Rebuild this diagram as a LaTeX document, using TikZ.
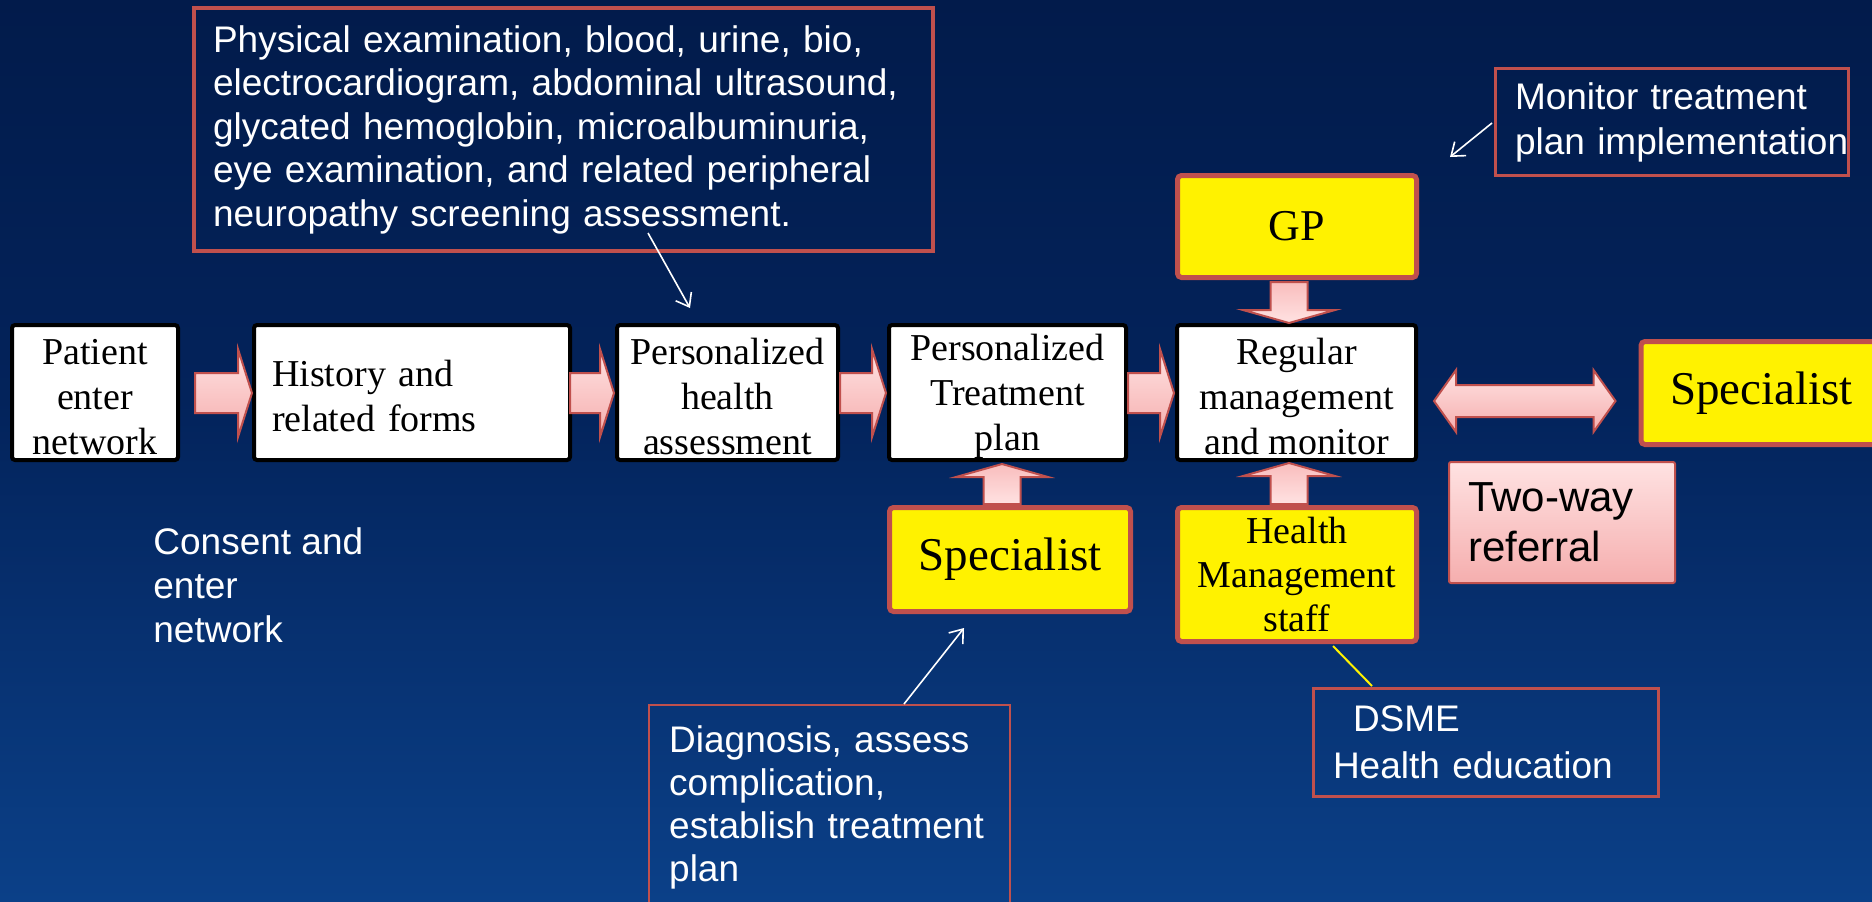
\documentclass[tikz,border=0pt]{standalone}
\usepackage{fontspec}
\setmainfont{Liberation Serif}
\newfontfamily\arialf{Liberation Sans}
\usetikzlibrary{calc,arrows.meta}
\definecolor{bgtop}{HTML}{021B4B}
\definecolor{bgmid}{HTML}{03235B}
\definecolor{bgbot}{HTML}{0B4088}
\definecolor{redb}{HTML}{C0504D}
\definecolor{pinklight}{HTML}{FFE2E2}
\definecolor{pinkdark}{HTML}{F5AEAE}
\definecolor{pinkv}{HTML}{F9BDBD}
\newcommand{\tup}{\rule{0pt}{17pt}}

\tikzset{
  wbox/.style={draw=black, line width=2pt, fill=white, rounded corners=1.5pt,
    minimum height=67.5pt, inner sep=0pt, align=center,
    font=\fontsize{19pt}{22.5pt}\selectfont},
  ybox/.style={draw=redb, line width=2.5pt, fill=yellow, rounded corners=2pt,
    inner sep=0pt, align=center},
  notebox/.style={draw=redb, text=white, align=left, inner ysep=0pt,
    font=\arialf\fontsize{18.5pt}{22pt}\selectfont},
  parrow/.style={draw=redb, line width=1pt, top color=pinklight, bottom color=pinkdark},
  pvarrow/.style={draw=redb, line width=1pt, top color=pinkv, bottom color=pinklight},
  callout/.style={draw=white, line width=0.8pt, -{Straight Barb[length=6pt,width=9pt]}},
}

\newcommand{\rarrow}[2]{%
  \path[parrow] let \p1=(#1), \p2=(#2) in
    (\x1,{\y1+10pt}) -- ({\x2-7pt},{\y1+10pt}) -- ({\x2-7pt},{\y1+22pt}) -- (\x2,\y1)
    -- ({\x2-7pt},{\y1-22pt}) -- ({\x2-7pt},{\y1-10pt}) -- (\x1,{\y1-10pt}) -- cycle;}
\newcommand{\downarrowV}[2]{%
  \path[pvarrow] let \p1=(#1), \p2=(#2) in
    ({\x1-9.25pt},\y1) -- ({\x1-9.25pt},{\y2+6.5pt}) -- ({\x1-23pt},{\y2+6.5pt}) -- (\x1,\y2)
    -- ({\x1+23pt},{\y2+6.5pt}) -- ({\x1+9.25pt},{\y2+6.5pt}) -- ({\x1+9.25pt},\y1) -- cycle;}
\newcommand{\uparrowV}[2]{%
  \path[pvarrow] let \p1=(#1), \p2=(#2) in
    ({\x1-9.25pt},\y1) -- ({\x1-9.25pt},{\y2-6.5pt}) -- ({\x1-23pt},{\y2-6.5pt}) -- (\x1,\y2)
    -- ({\x1+23pt},{\y2-6.5pt}) -- ({\x1+9.25pt},{\y2-6.5pt}) -- ({\x1+9.25pt},\y1) -- cycle;}
\newcommand{\dblarrowH}[2]{%
  \path[parrow] let \p1=(#1), \p2=(#2) in
    (\x1,\y1) -- ({\x1+11pt},{\y1+15.5pt}) -- ({\x1+11pt},{\y1+8pt}) -- ({\x2-11pt},{\y1+8pt})
    -- ({\x2-11pt},{\y1+15.5pt}) -- (\x2,\y1) -- ({\x2-11pt},{\y1-15.5pt}) -- ({\x2-11pt},{\y1-8pt})
    -- ({\x1+11pt},{\y1-8pt}) -- ({\x1+11pt},{\y1-15.5pt}) -- cycle;}

\begin{document}
\begin{tikzpicture}[x=0.5pt,y=-0.5pt]
\useasboundingbox (0,0) rectangle (1872,901);
\clip (0,0) rectangle (1872,901);
% background
\fill[top color=bgtop, bottom color=bgmid] (0,0) rectangle (1872,402);
\fill[top color=bgmid, bottom color=bgbot] (0,400) rectangle (1872,901);

% main flow boxes
\node[wbox, minimum width=83pt] (pat) at (95,392.5) {\tup Patient\\enter\\network};
\node[wbox, minimum width=158pt, align=left, text width=140pt] (hist) at (412,392.5) {\tup History and\\related forms};
\node[wbox, minimum width=110.5pt] (pha) at (727.5,392.5) {\tup Personalized\\health\\assessment};
\node[wbox, minimum width=118.5pt] (ptp) at (1007.5,392.5) {\tup Personalized\\Treatment\\plan};
\node[wbox, minimum width=119.5pt] (rmm) at (1296.5,392.5) {\tup Regular\\management\\and monitor};

% yellow boxes
\node[ybox, minimum width=119.5pt, minimum height=51pt, font=\fontsize{22pt}{26pt}\selectfont] (gp) at (1297,226.5) {GP};
\node[ybox, minimum width=120.5pt, minimum height=52pt, font=\fontsize{23.5pt}{28pt}\selectfont] (spl) at (1010,559.5) {Specialist};
\node[ybox, minimum width=119.5pt, minimum height=67pt, font=\fontsize{19pt}{22pt}\selectfont] (hms) at (1297,574.5) {Health\\Management\\staff};
\node[ybox, anchor=west, minimum width=120.5pt, minimum height=51.5pt, font=\fontsize{23.5pt}{28pt}\selectfont] (spr) at (1638.5,393) {Specialist};

% two-way referral
\node[draw=redb, line width=1pt, top color=pinklight, bottom color=pinkdark, rounded corners=1pt,
  minimum width=113pt, minimum height=60.5pt, inner sep=0pt, align=left, text width=94pt,
  font=\arialf\fontsize{21pt}{25pt}\selectfont] (tw) at (1562,522.5) {Two-way\\referral};

% note boxes
\node[notebox, line width=2pt, minimum width=369.5pt, minimum height=121.5pt, inner xsep=9.5pt,
  text width=350.5pt, font=\arialf\fontsize{18.5pt}{21.75pt}\selectfont] (phys) at (563.5,129.5)
  {\mbox{Physical examination, blood, urine, bio,}\\
   \mbox{electrocardiogram, abdominal ultrasound,}\\
   \mbox{glycated hemoglobin, microalbuminuria,}\\
   \mbox{eye examination, and related peripheral}\\
   \mbox{neuropathy screening assessment.}};
\node[notebox, line width=1.5pt, minimum width=176.5pt, minimum height=53.5pt, inner xsep=9.75pt,
  text width=157pt, font=\arialf\fontsize{18.5pt}{22.5pt}\selectfont] (mon) at (1672,122)
  {\mbox{Monitor treatment}\\\mbox{plan implementation}};
\node[notebox, line width=1.5pt, minimum width=172.5pt, minimum height=54pt, inner xsep=9.75pt,
  text width=153pt, font=\arialf\fontsize{18.5pt}{23.5pt}\selectfont] (dsme) at (1486,742.5)
  {\hspace*{10pt}DSME\\\mbox{Health education}};
\node[notebox, line width=1.2pt, anchor=north west, minimum width=180.5pt, inner xsep=10pt, inner ysep=10pt,
  text width=160.5pt, font=\arialf\fontsize{18.5pt}{21.5pt}\selectfont] (diag) at (648,704)
  {\mbox{Diagnosis, assess}\\\mbox{complication,}\\\mbox{establish treatment}\\\mbox{plan}\\[20pt]};

% free text
\node[anchor=west, align=left, inner sep=0pt, text=white, font=\arialf\fontsize{18.5pt}{22pt}\selectfont]
  (consent) at (153,585) {Consent and\\enter\\network};

% block arrows
\rarrow{$(pat.east)+(15,0.5)$}{$(hist.west)+(0,0.5)$}
\rarrow{$(hist.east)+(-2,0.5)$}{$(pha.west)+(-1,0.5)$}
\rarrow{$(pha.east)+(0,0.5)$}{$(ptp.west)+(-1,0.5)$}
\rarrow{$(ptp.east)+(0,0.5)$}{$(rmm.west)+(-1,0.5)$}
\downarrowV{$(gp.south)+(-8,2)$}{rmm.north}
\uparrowV{$(spl.north)+(-8,-1)$}{$(ptp.south)+(0,2)$}
\uparrowV{$(hms.north)+(-8,-1)$}{$(rmm.south)+(0,1)$}
\dblarrowH{$(rmm.east)+(16,8.5)$}{$(spr.west)+(-23,8)$}

% callouts
\coordinate (c1s) at (648,233);
\coordinate (c1e) at (690,308);
\draw[callout] (c1s) -- (c1e);
\coordinate (c2e) at (1450,157);
\draw[callout] ($(mon.west)+(-2,1)$) -- (c2e);
\coordinate (c3e) at (964,628);
\draw[callout] ($(diag.north west)+(256,0)$) -- (c3e);
\draw[yellow, line width=1pt] ($(hms.south)+(36,2)$) -- ($(dsme.north)+(-114,-1)$);
\end{tikzpicture}
\end{document}
